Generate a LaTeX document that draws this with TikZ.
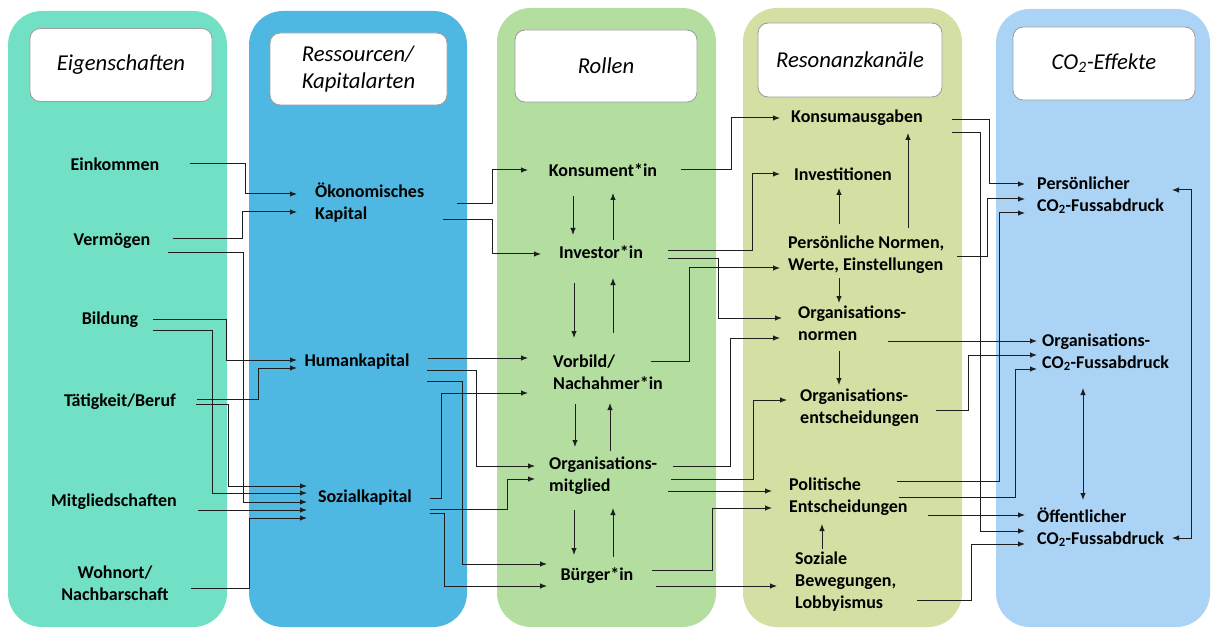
\documentclass[tikz,border=0pt]{standalone}
\usepackage{fontspec}
\setmainfont{Carlito}
\usetikzlibrary{arrows.meta}
\definecolor{colA}{HTML}{72E0C5}
\definecolor{colB}{HTML}{4EB8E2}
\definecolor{colC}{HTML}{B3DEA0}
\definecolor{colD}{HTML}{D3DFA3}
\definecolor{colE}{HTML}{ABD3F5}
\definecolor{headgray}{HTML}{A0A0A0}
\definecolor{linecol}{HTML}{1E1E1E}
\begin{document}
\begin{tikzpicture}[x=1pt,y=-1pt,
  panel/.style={rounded corners=34pt},
  head/.style={draw=headgray, fill=white, rounded corners=10pt, line width=0.9pt,
    font=\fontsize{22.7}{27}\selectfont\itshape, inner sep=0pt, align=left},
  lbl/.style={font=\fontsize{18}{22}\selectfont\bfseries, inner sep=0pt},
  lbll/.style={lbl, align=left, anchor=west},
  arr/.style={-{Latex[length=7pt,width=5.5pt]}, line width=1pt, draw=linecol},
  dbl/.style={{Latex[length=7pt,width=5.5pt]}-{Latex[length=7pt,width=5.5pt]}, line width=1pt, draw=linecol}]
\useasboundingbox (0,0) rectangle (1212,628);

% column panels
\fill[colA, panel] (8,11) rectangle (227,627);
\fill[colB, panel] (249,11) rectangle (467,627);
\fill[colC, panel] (497,8) rectangle (716,627);
\fill[colD, panel] (743,8) rectangle (962,627);
\fill[colE, panel] (996,9) rectangle (1210,627);

% column headers
\node[head, minimum width=182pt, minimum height=73pt] (h1) at (121,65) {Eigenschaften};
\node[head, minimum width=177pt, minimum height=72pt] (h2) at (358.5,69) {Ressourcen/\\Kapitalarten};
\node[head, minimum width=182pt, minimum height=72pt] (h3) at (606,66) {Rollen};
\node[head, minimum width=184pt, minimum height=74pt] (h4) at (850,60) {Resonanzkanäle};
\node[head, minimum width=182pt, minimum height=73pt] (h5) at (1104,63.5) {CO\textsubscript{2}-Effekte};

% Eigenschaften
\node[lbl] (ein) at (115,164) {Einkommen};
\node[lbl] (verm) at (112,241) {Vermögen};
\node[lbl] (bild) at (110,320) {Bildung};
\node[lbl] (taet) at (120,402) {Tätigkeit/Beruf};
\node[lbl] (mitg) at (114,502) {Mitgliedschaften};
\node[lbl, align=center] (wohn) at (115,583) {Wohnort/\\Nachbarschaft};

% Kapitalarten
\node[lbll] (oek) at (315,203) {Ökonomisches\\Kapital};
\node[lbl] (hum) at (357,362) {Humankapital};
\node[lbl] (soz) at (365,498) {Sozialkapital};

% Rollen
\node[lbl] (kons) at (603,170) {Konsument*in};
\node[lbl] (inv) at (601,252) {Investor*in};
\node[lbll] (vorb) at (553,372) {Vorbild/\\Nachahmer*in};
\node[lbll] (orgm) at (549,476) {Organisations-\\mitglied};
\node[lbl] (buer) at (597,576) {Bürger*in};

% Resonanzkanäle
\node[lbl] (ausg) at (857,118) {Konsumausgaben};
\node[lbl] (invest) at (843,174) {Investitionen};
\node[lbll] (pers) at (788,255) {Persönliche Normen,\\Werte, Einstellungen};
\node[lbll] (onorm) at (798,323) {Organisations-\\normen};
\node[lbll] (oents) at (800,408) {Organisations-\\entscheidungen};
\node[lbll] (polit) at (789,497) {Politische\\Entscheidungen};
\node[lbll] (bewe) at (795,582) {Soziale\\Bewegungen,\\Lobbyismus};

% CO2-Effekte
\node[lbll] (pco) at (1037,195) {Persönlicher\\CO\textsubscript{2}-Fussabdruck};
\node[lbll] (oco) at (1042,352) {Organisations-\\CO\textsubscript{2}-Fussabdruck};
\node[lbll] (fco) at (1037,527) {Öffentlicher\\CO\textsubscript{2}-Fussabdruck};

% Eigenschaften -> Kapitalarten
\draw[arr] ([shift={(75,0)}]ein.center) -- ++(55,0) |- ([shift={(-18,-9)}]oek.west);
\draw[arr] ([shift={(61,-2)}]verm.center) -- ++(69,0) |- ([shift={(-18,9)}]oek.west);
\draw[arr] ([shift={(56,12)}]verm.center) -- ++(75,0) |- ([shift={(-58,4)}]soz.center);
\draw[arr] ([shift={(43,-1)}]bild.center) -- ++(73,0) |- ([shift={(-60,-2)}]hum.center);
\draw[arr] ([shift={(43,10)}]bild.center) -- ++(59,0) |- ([shift={(-58,-5)}]soz.center);
\draw[arr] ([shift={(77,-3)}]taet.center) -- ++(61,0) |- ([shift={(-60,6)}]hum.center);
\draw[arr] ([shift={(76,2)}]taet.center) -- ++(32,0) |- ([shift={(-58,-12)}]soz.center);
\draw[arr] ([shift={(84,8)}]mitg.center) -- ([shift={(-58,12)}]soz.center);
\draw[arr] ([shift={(76,5)}]wohn.center) -- ++(58,0) |- ([shift={(-58,20)}]soz.center);

% Kapitalarten -> Rollen
\draw[arr] ([shift={(142,1)}]oek.west) -- ++(35,0) |- ([shift={(-75,0)}]kons.center);
\draw[arr] ([shift={(128,17)}]oek.west) -- ++(49,0) |- ([shift={(-60,2)}]inv.center);
\draw[arr] ([shift={(71,-4)}]hum.center) -- ([shift={(-25,-14)}]vorb.west);
\draw[arr] ([shift={(70,8)}]hum.center) -- ++(49,0) |- ([shift={(-14,-10)}]orgm.west);
\draw[arr] ([shift={(70,19)}]hum.center) -- ++(35,0) |- ([shift={(-50,-12)}]buer.center);
\draw[arr] ([shift={(65,0)}]soz.center) -- ++(11,0) |- ([shift={(-25,21)}]vorb.west);
\draw[arr] ([shift={(65,11)}]soz.center) -- ++(77,0) |- ([shift={(-14,3)}]orgm.west);
\draw[arr] ([shift={(65,15)}]soz.center) -- ++(14,0) |- ([shift={(-50,10)}]buer.center);

% Rollen: links between roles
\draw[arr] ([shift={(-30,26)}]kons.center) -- ([shift={(-28,-17)}]inv.center);
\draw[arr] ([shift={(12,-12)}]inv.center) -- ([shift={(10,23)}]kons.center);
\draw[arr] ([shift={(-27,31)}]inv.center) -- ([shift={(21,-34)}]vorb.west);
\draw[arr] ([shift={(60,-39)}]vorb.west) -- ([shift={(12,26)}]inv.center);
\draw[arr] ([shift={(22,32)}]vorb.west) -- ([shift={(26,-29)}]orgm.west);
\draw[arr] ([shift={(61,-25)}]orgm.west) -- ([shift={(57,31)}]vorb.west);
\draw[arr] ([shift={(25,34)}]orgm.west) -- ([shift={(-23,-21)}]buer.center);
\draw[arr] ([shift={(16,-19)}]buer.center) -- ([shift={(64,32)}]orgm.west);

% Rollen -> Resonanzkanäle
\draw[arr] ([shift={(78,0)}]kons.center) -- ++(50,0) |- ([shift={(-77,0)}]ausg.center);
\draw[arr] ([shift={(67,-1)}]inv.center) -- ++(84,0) |- ([shift={(-63,0)}]invest.center);
\draw[arr] ([shift={(67,7)}]inv.center) -- ++(50,0) |- ([shift={(-16,-5)}]onorm.west);
\draw[arr] ([shift={(98,-11)}]vorb.west) -- ++(38,0) |- ([shift={(-8,13)}]pers.west);
\draw[arr] ([shift={(124,-10)}]orgm.west) -- ++(57,0) |- ([shift={(-18,15)}]onorm.west);
\draw[arr] ([shift={(122,3)}]orgm.west) -- ++(82,0) |- ([shift={(-13,-8)}]oents.west);
\draw[arr] ([shift={(119,15)}]orgm.west) -- ([shift={(-17,-6)}]polit.west);
\draw[arr] ([shift={(55,-6)}]buer.center) -- ++(60,0) |- ([shift={(-17,11)}]polit.west);
\draw[arr] ([shift={(59,10)}]buer.center) -- ([shift={(-18,4)}]bewe.west);

% Resonanzkanäle: internal links
\draw[arr] ([shift={(51,-31)}]pers.west) -- ([shift={(-4,14)}]invest.center);
\draw[arr] ([shift={(120,-27)}]pers.west) -- ([shift={(51,15)}]ausg.center);
\draw[arr] ([shift={(51,23)}]pers.west) -- ([shift={(41,-20)}]onorm.west);
\draw[arr] ([shift={(41,28)}]onorm.west) -- ([shift={(39,-23)}]oents.west);
\draw[arr] ([shift={(27,-33)}]bewe.west) -- ([shift={(33,27)}]polit.west);

% Resonanzkanäle -> CO2-Effekte
\draw[arr] ([shift={(95,2)}]ausg.center) -- ++(37,0) |- ([shift={(-12,-11)}]pco.west);
\draw[arr] ([shift={(95,15)}]ausg.center) -- ++(28,0) |- ([shift={(-12,4)}]fco.west);
\draw[arr] ([shift={(169,2)}]pers.west) -- ++(30,0) |- ([shift={(-12,4)}]pco.west);
\draw[arr] ([shift={(90,18)}]onorm.west) -- ([shift={(-5,-11)}]oco.west);
\draw[arr] ([shift={(136,2)}]oents.west) -- ++(32,0) |- ([shift={(-5,3)}]oco.west);
\draw[arr] ([shift={(108,-16)}]polit.west) -- ++(102,0) |- ([shift={(-12,18)}]pco.west);
\draw[arr] ([shift={(110,0)}]polit.west) -- ++(116,0) |- ([shift={(-5,17)}]oco.west);
\draw[arr] ([shift={(139,18)}]polit.west) -- ([shift={(-12,-12)}]fco.west);
\draw[arr] ([shift={(122,18)}]bewe.west) -- ++(54,0) |- ([shift={(-12,17)}]fco.west);

% CO2-Effekte: mutual links
\draw[dbl] ([shift={(135,-5)}]pco.west) -- ++(19,0) |- ([shift={(135,11)}]fco.west);
\draw[dbl] ([shift={(41,36)}]oco.west) -- ([shift={(46,-27)}]fco.west);
\end{tikzpicture}
\end{document}
